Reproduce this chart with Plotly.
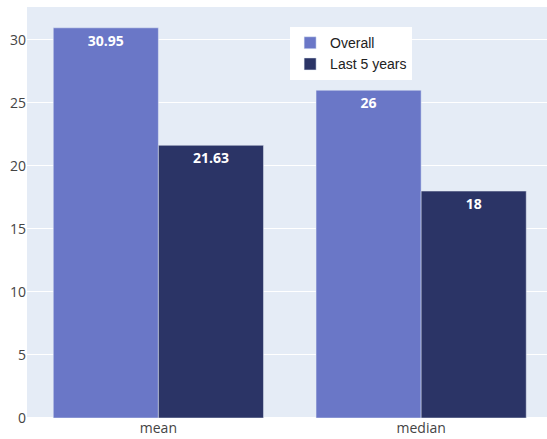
import plotly.graph_objects as go

# Summary statistics by period
stats = ["mean", "median"]
overall = [30.95, 26]
last_5_years = [21.63, 18]
overall_labels = ["30.95", "26"]
last_5_labels = ["21.63", "18"]

fig = go.Figure()
fig.add_trace(go.Bar(
    name="Overall", x=stats, y=overall, text=overall_labels,
    textposition="inside", insidetextanchor="end",
    marker=dict(color="#6A77C7", line=dict(color="#E5ECF6", width=0.5)),
    textfont=dict(color="white", size=14, family="Open Sans", weight="bold"),
))
fig.add_trace(go.Bar(
    name="Last 5 years", x=stats, y=last_5_years, text=last_5_labels,
    textposition="inside", insidetextanchor="end",
    marker=dict(color="#2B3466", line=dict(color="#E5ECF6", width=0.5)),
    textfont=dict(color="white", size=14, family="Open Sans", weight="bold"),
))

fig.update_layout(
    width=547, height=439,
    template="plotly",
    barmode="group",
    bargap=0.2, bargroupgap=0,
    margin=dict(l=27, r=0, t=7, b=21),
    paper_bgcolor="white",
    plot_bgcolor="#E5ECF6",
    font=dict(family="Open Sans", size=13, color="#2a3f5f"),
    xaxis=dict(range=[-0.5, 1.479], tickfont=dict(size=14, color="#444")),
    yaxis=dict(range=[0, 32.6], dtick=5, tickfont=dict(size=14, color="#444"),
               gridcolor="white"),
    legend=dict(x=0.506, y=0.951, xanchor="left", yanchor="top",
                bgcolor="white",
                font=dict(family="Liberation Sans, Arial", size=14, color="#222")),
    showlegend=True,
)

fig.write_html("out.html")
